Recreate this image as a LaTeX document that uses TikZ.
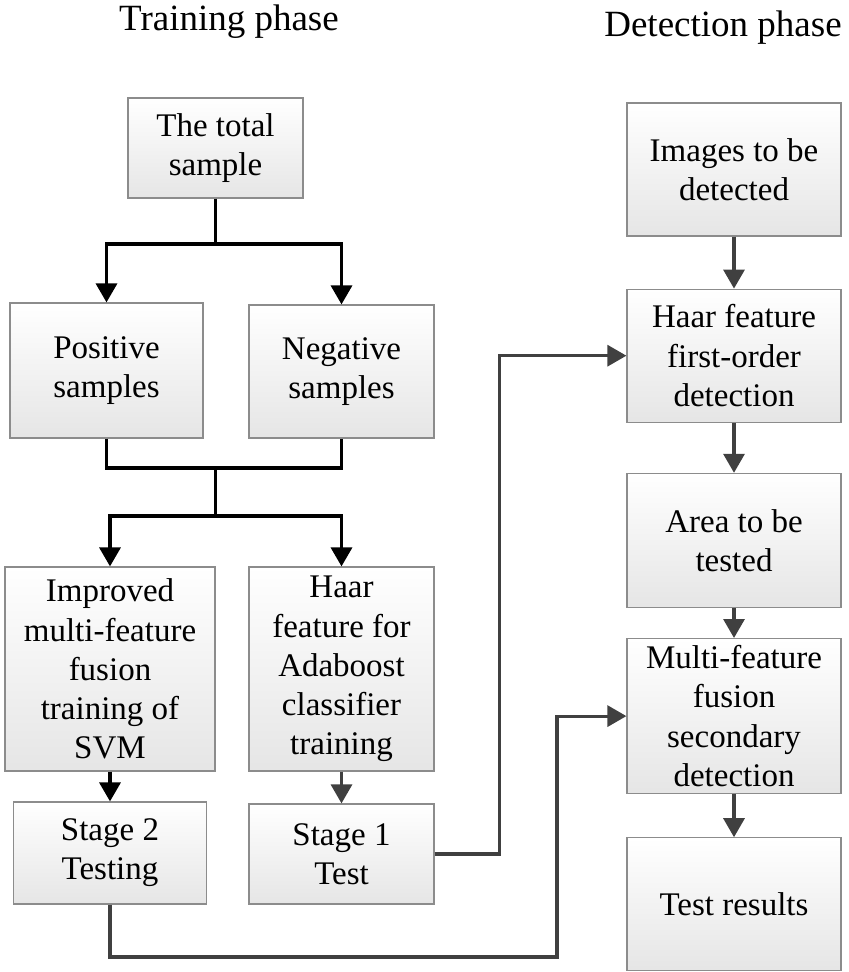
\documentclass[tikz,border=0pt]{standalone}
\usepackage{fontspec}
\setmainfont{Liberation Serif}
\usetikzlibrary{arrows.meta,positioning}

\begin{document}
\begin{tikzpicture}[x=0.5pt,y=-0.5pt,>={Triangle[width=10.5pt,length=9.5pt]},
                    line width=1.5pt]
  \tikzstyle{box}=[draw=gray!90,line width=0.6pt,top color=white,bottom color=gray!20,
                   inner sep=0pt,align=center,font=\fontsize{16.5}{19.6}\selectfont]
  \tikzstyle{phase}=[font=\fontsize{18.5}{22}\selectfont]
  \tikzstyle{blk}=[draw=black,line width=1.7pt]
  \tikzstyle{gry}=[draw=black!75,line width=1.6pt]

  \useasboundingbox (0,0) rectangle (848,972);

  \node[phase] (train)  at (229,22) {Training phase};
  \node[phase] (detect) at (723,28) {Detection phase};

  % training phase
  \node[box,minimum width=87.5pt,minimum height=50pt]   (total) at (215.5,148) {The total\\sample};
  \node[box,minimum width=96.5pt,minimum height=67.5pt] (pos)   at (106.5,370.5) {Positive\\samples};
  \node[box,minimum width=92.5pt,minimum height=66.5pt] (neg)   at (341.5,371.5) {Negative\\samples};
  \node[box,minimum width=105pt,minimum height=102pt]   (svm)   at (110,669) {Improved\\multi-feature\\fusion\\training of\\SVM};
  \node[box,minimum width=92.5pt,minimum height=102pt]  (ada)   at (341.5,669) {Haar\\feature for\\Adaboost\\classifier\\training};
  \node[box,minimum width=96.5pt,minimum height=51pt]   (st2)   at (110,853) {Stage 2\\Testing};
  \node[box,minimum width=92.5pt,minimum height=50pt]   (st1)   at (341.5,854) {Stage 1\\Test};

  % detection phase
  \node[box,minimum width=107pt,minimum height=66.5pt] (img)   at (734,169.5) {Images to be\\detected};
  \node[box,minimum width=107pt,minimum height=66.5pt] (haarf) [below=26pt of img]   {Haar feature\\first-order\\detection};
  \node[box,minimum width=107pt,minimum height=67pt]   (area)  [below=25pt of haarf] {Area to be\\tested};
  \node[box,minimum width=107pt,minimum height=77.5pt] (multi) [below=15pt of area]  {Multi-feature\\fusion\\secondary\\detection};
  \node[box,minimum width=107pt,minimum height=66.5pt] (res)   [below=21.5pt of multi] {Test results};

  \coordinate (fork1) at (215.5,244);
  \coordinate (join)  at (215.5,468);
  \coordinate (fork2) at (215.5,516);
  \coordinate (low)   at (557,957);

  \draw[blk] (total) -- (fork1);
  \draw[blk,->] (fork1) -| (pos);
  \draw[blk,->] (fork1) -| (neg);
  \draw[blk] (pos) |- (join) -| (neg);
  \draw[blk] (join) -- (fork2);
  \draw[blk,->] (fork2) -| (svm);
  \draw[blk,->] (fork2) -| (ada);
  \draw[blk,->] (svm) -- (st2);
  \draw[gry,->] (ada) -- (st1);

  \draw[gry,->] (st1.east) -- ++(65,0) |- (haarf); % first stage
  \draw[gry,->] (st2) |- (low) |- (multi);         % second stage

  \draw[gry,->] (img) -- (haarf);
  \draw[gry,->] (haarf) -- (area);
  \draw[gry,->] (area) -- (multi);
  \draw[gry,->] (multi) -- (res);
\end{tikzpicture}
\end{document}
